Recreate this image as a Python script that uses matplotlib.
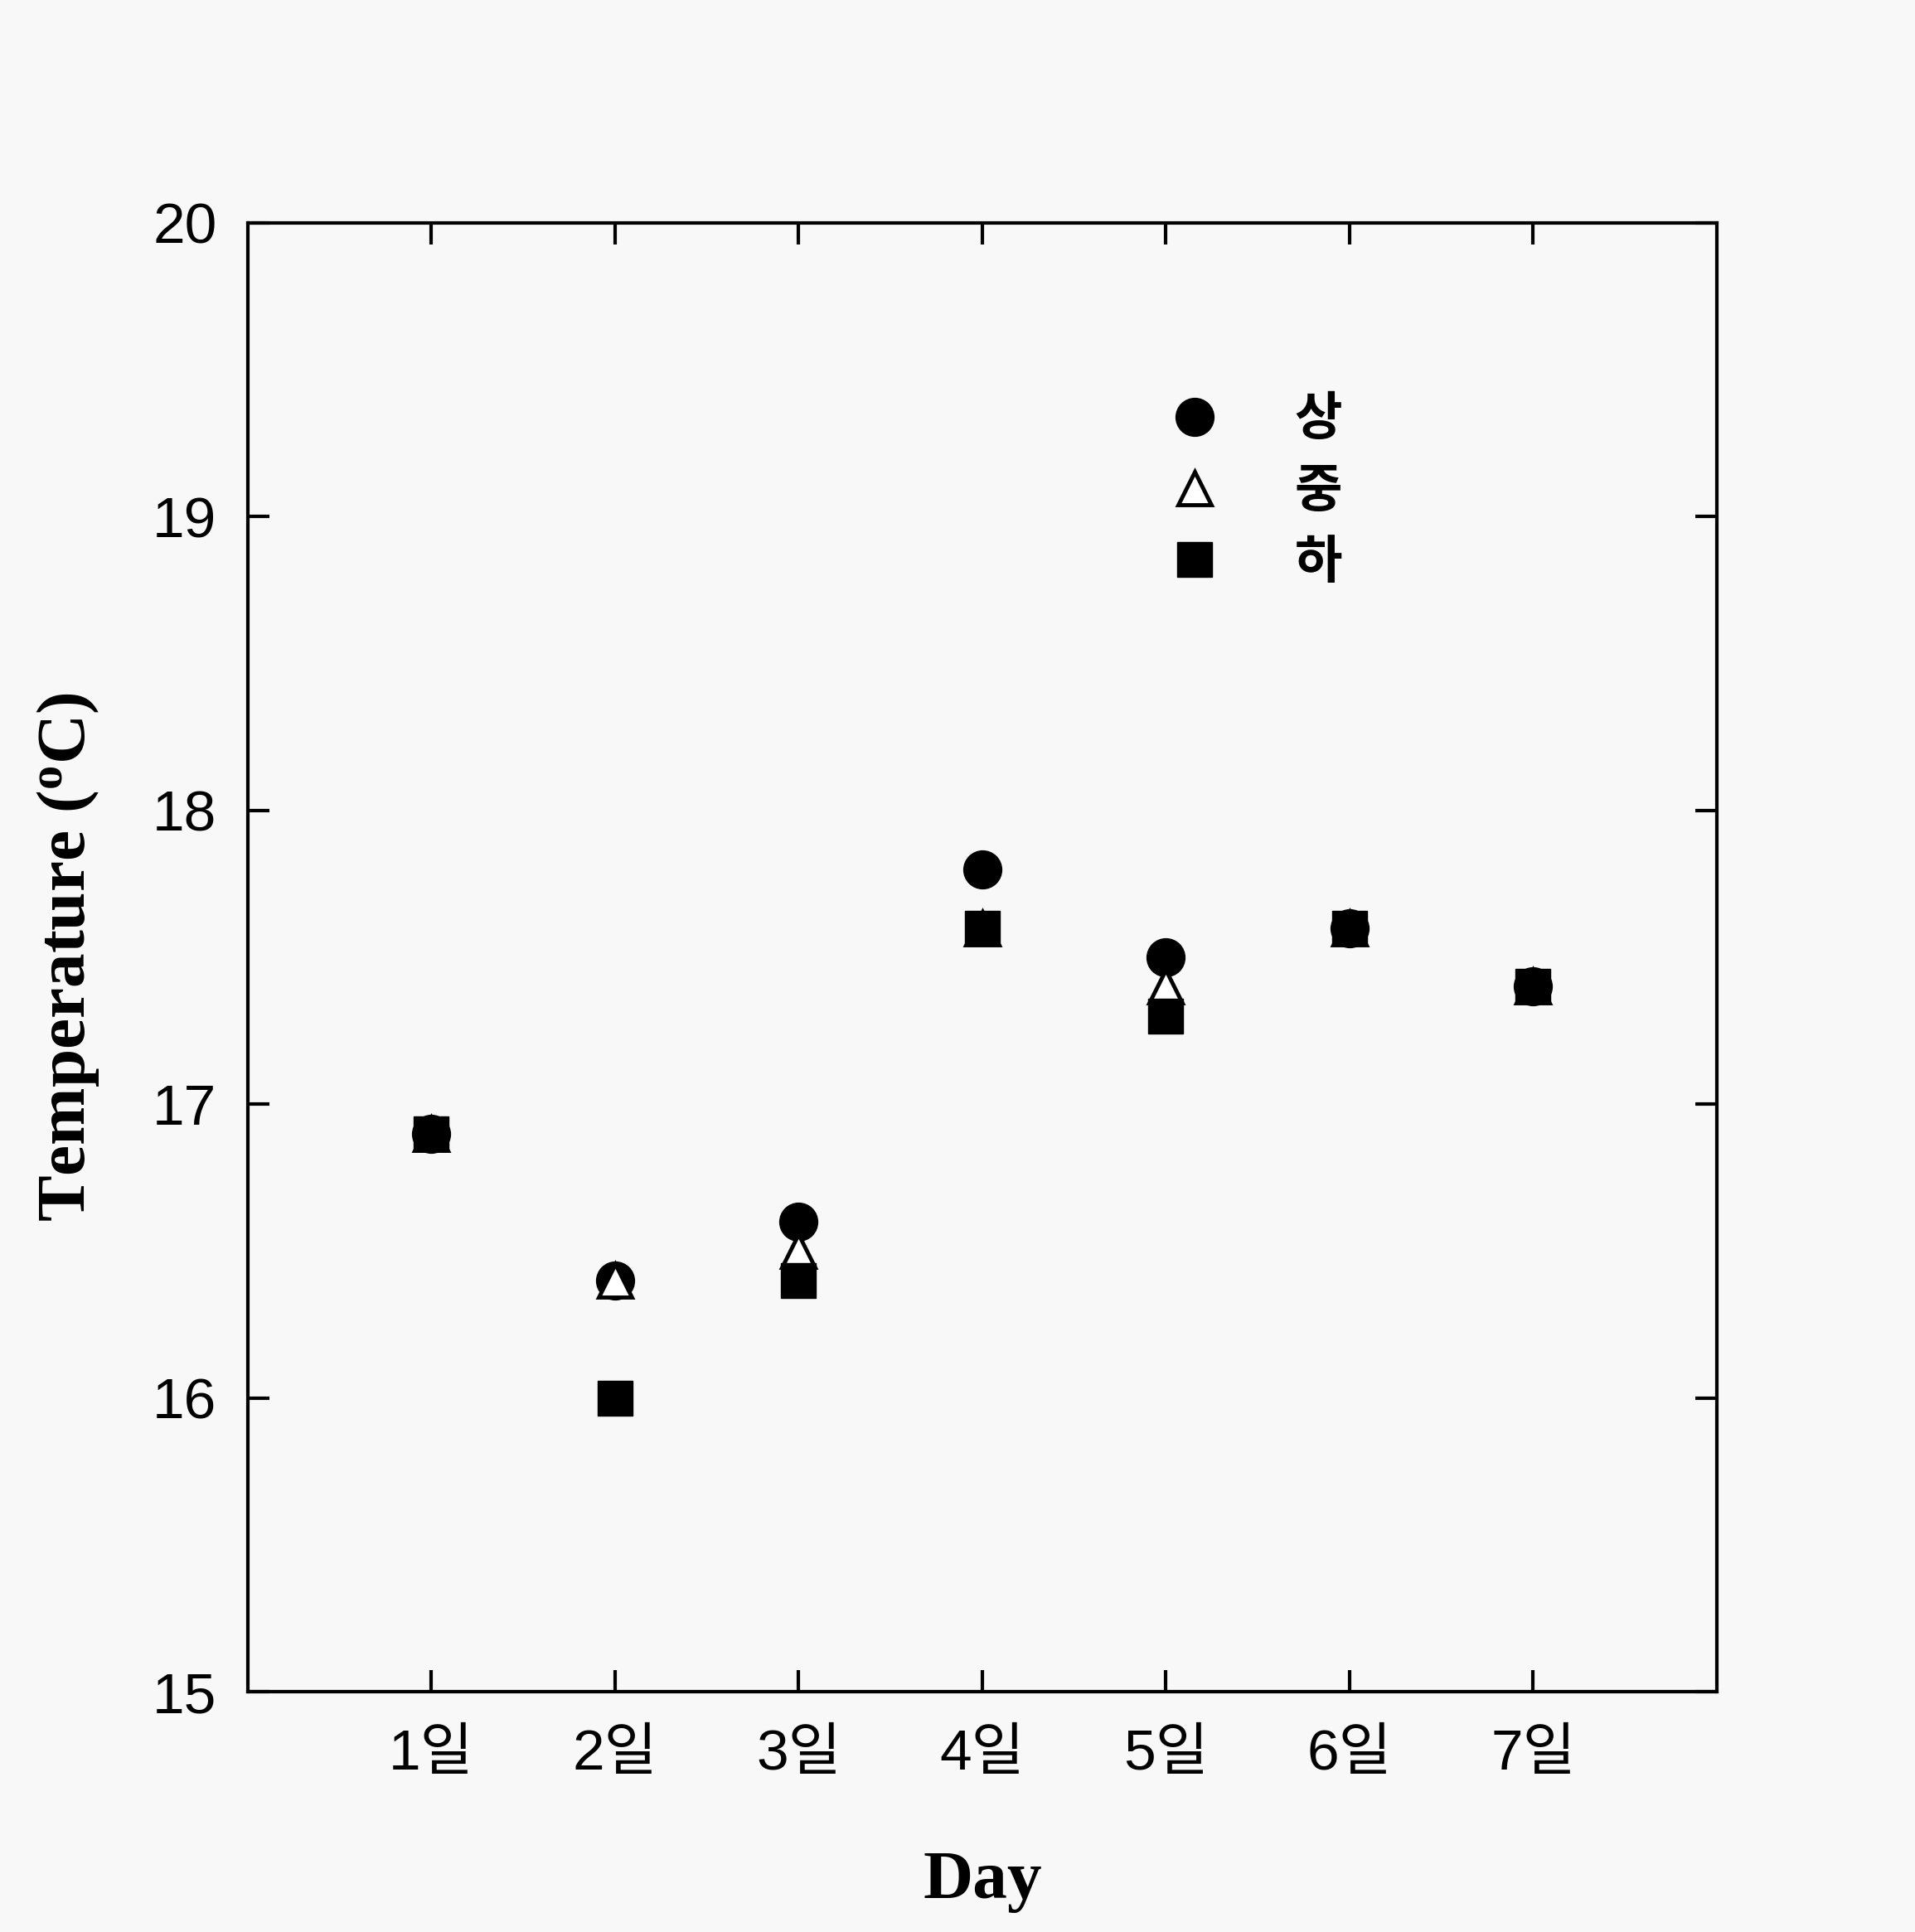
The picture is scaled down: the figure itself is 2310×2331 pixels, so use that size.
import matplotlib
matplotlib.use('Agg')
import matplotlib.pyplot as plt

days = [1, 2, 3, 4, 5, 6, 7]
day_labels = ['1일', '2일', '3일', '4일', '5일', '6일', '7일']
upper = [16.9, 16.4, 16.6, 17.8, 17.5, 17.6, 17.4]   # 상
middle = [16.9, 16.4, 16.5, 17.6, 17.4, 17.6, 17.4]  # 중
lower = [16.9, 16.0, 16.4, 17.6, 17.3, 17.6, 17.4]   # 하

plt.rcParams['font.family'] = ['Liberation Sans', 'Noto Sans CJK KR']
bg = '#f8f8f8'

fig = plt.figure(figsize=(23.1, 23.31), dpi=100, facecolor=bg)
ax = fig.add_axes([0.1294, 0.1244, 0.7671, 0.7602], facecolor=bg)

ax.plot(days, upper, 'o', color='black', ms=33, mec='black', label='상')
ax.plot(days, middle, '^', color='white', ms=29, mec='black', mew=3.5, label='중')
ax.plot(days, lower, 's', color='black', ms=30, mec='black', label='하')

ax.set_xlim(0, 8)
ax.set_ylim(15, 20)
ax.set_xticks(days)
ax.set_xticklabels(day_labels)
ax.set_yticks([15, 16, 17, 18, 19, 20])
ax.tick_params(direction='in', length=19, width=3, top=True, right=True,
               labelsize=50, colors='black')
ax.tick_params(axis='x', pad=32)
ax.tick_params(axis='y', pad=27)
for s in ax.spines.values():
    s.set_linewidth(3)

ax.set_xlabel('Day', family='Liberation Serif', fontweight='bold', fontsize=60, labelpad=60)
ax.set_ylabel('Temperature ($\\mathregular{^o}$C)', family='Liberation Serif',
              fontweight='bold', fontsize=60, labelpad=45)

leg = ax.legend(loc='center left', bbox_to_anchor=(0.629, 0.8177), frameon=False,
                numpoints=1, handlelength=1.0 * 40 / 45, handletextpad=1.48,
                labelspacing=0.37, borderpad=0, borderaxespad=0,
                prop={'family': 'Noto Sans CJK KR', 'weight': 'bold', 'size': 45})

fig.savefig('out.png', dpi=100, facecolor=bg)
